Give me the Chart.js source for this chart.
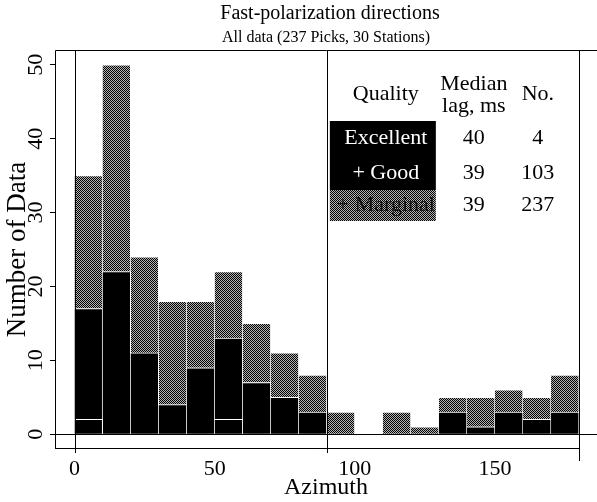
<!DOCTYPE html>
<html>
<head>
<meta charset="utf-8">
<script src="https://cdn.jsdelivr.net/npm/chart.js@4.4.0/dist/chart.umd.min.js"></script>
<style>
  html, body { margin: 0; padding: 0; background: #fff; overflow: hidden; }
</style>
</head>
<body>
<canvas id="myChart" width="597" height="502"></canvas>
<script>
// histogram of fast-polarization azimuths, 10 degree bins
const binCenters = [5, 15, 25, 35, 45, 55, 65, 75, 85, 95, 105, 115, 125, 135, 145, 155, 165, 175];
const excellent = [2, 0, 0, 0, 0, 2, 0, 0, 0, 0, 0, 0, 0, 0, 0, 0, 0, 0];
const good      = [15, 22, 11, 4, 9, 11, 7, 5, 3, 0, 0, 0, 0, 3, 1, 3, 2, 3];
const marginal  = [18, 28, 13, 14, 9, 9, 8, 6, 5, 3, 0, 3, 1, 2, 4, 3, 3, 5];

const xTicks = [0, 50, 100, 150];
const yTicks = [0, 10, 20, 30, 40, 50];
const dividers = [0, 90, 180];

// table in the upper right
const qualityNames = ['Excellent', '+ Good', '+ Marginal'];
const medianLag = [40, 39, 39];
const pickCount = [4, 103, 237];

const serif = '"Liberation Serif", "DejaVu Serif", serif';

// dithered grey like the printed figure
function stipple() {
  const c = document.createElement('canvas');
  c.width = 2; c.height = 2;
  const g = c.getContext('2d');
  g.fillStyle = '#b4b4b4';
  g.fillRect(0, 0, 2, 2);
  g.fillStyle = '#000';
  g.fillRect(0, 0, 1, 1);
  g.fillRect(1, 1, 1, 1);
  return g.createPattern(c, 'repeat');
}
const grey = stipple();

function points(values) {
  return values.map((v, i) => ({ x: binCenters[i], y: v }));
}

const framePlugin = {
  id: 'frame',
  afterDatasetsDraw(chart) {
    const { ctx, chartArea: a, scales: { x, y } } = chart;
    ctx.save();
    ctx.strokeStyle = '#000';
    ctx.lineWidth = 1;
    ctx.beginPath();
    ctx.moveTo(a.left + 0.5, a.bottom);
    ctx.lineTo(a.left + 0.5, a.top + 0.5);
    ctx.lineTo(a.right, a.top + 0.5);
    const x180 = x.getPixelForValue(180);
    ctx.moveTo(a.left, a.bottom - 0.5);
    ctx.lineTo(x180, a.bottom - 0.5);
    const y0 = Math.round(y.getPixelForValue(0)) + 0.5;
    ctx.moveTo(a.left, y0);
    ctx.lineTo(a.right, y0);
    dividers.forEach(v => {
      const px = Math.round(x.getPixelForValue(v)) + 0.5;
      ctx.moveTo(px, a.top);
      ctx.lineTo(px, a.bottom + (v === 180 ? 12 : 4));
    });
    ctx.stroke();

    // titles
    const cx = (a.left + a.right) / 2;
    ctx.fillStyle = '#000';
    ctx.textAlign = 'center';
    ctx.textBaseline = 'middle';
    ctx.font = '20px ' + serif;
    ctx.fillText('Fast-polarization directions', cx + 4, a.top - 36);
    ctx.font = '16px ' + serif;
    ctx.fillText('All data (237 Picks, 30 Stations)', cx, a.top - 12);

    // quality table
    const left = x.getPixelForValue(90) + 3;
    const colQ = left + 56, colLag = left + 144, colNo = left + 208;
    ctx.font = '22px ' + serif;
    ctx.fillText('Quality', colQ, a.top + 44);
    ctx.fillText('Median', colLag, a.top + 34);
    ctx.fillText('lag, ms', colLag, a.top + 56);
    ctx.fillText('No.', colNo, a.top + 44);
    const rowTop = [a.top + 71, a.top + 106, a.top + 140];
    const rowH = [35, 34, 31];
    const fills = ['#000', '#000', grey];
    const inks = ['#fff', '#fff', '#111'];
    qualityNames.forEach((name, i) => {
      ctx.fillStyle = fills[i];
      ctx.fillRect(left, rowTop[i], 106, rowH[i]);
      const cy = rowTop[i] + rowH[i] / 2;
      ctx.fillStyle = inks[i];
      ctx.fillText(name, colQ, cy);
      ctx.fillStyle = '#000';
      ctx.fillText(String(medianLag[i]), colLag, cy);
      ctx.fillText(String(pickCount[i]), colNo, cy);
    });
    ctx.restore();
  }
};

const ctx = document.getElementById('myChart').getContext('2d');
const myChart = new Chart(ctx, {
  type: 'bar',
  data: {
    datasets: [
      { label: 'Excellent', data: points(excellent), backgroundColor: '#000' },
      { label: 'Good', data: points(good), backgroundColor: '#000' },
      { label: 'Marginal', data: points(marginal), backgroundColor: grey }
    ]
  },
  options: {
    responsive: false,
    animation: false,
    layout: { padding: { top: 50, left: 0, right: 0, bottom: 0 } },
    datasets: {
      bar: {
        grouped: false,
        barPercentage: 1,
        categoryPercentage: 1,
        borderColor: '#fff',
        borderWidth: { top: 1, right: 1, left: 0, bottom: 0 },
        borderSkipped: false
      }
    },
    plugins: {
      legend: { display: false },
      tooltip: { enabled: false },
      title: { display: false }
    },
    scales: {
      x: {
        type: 'linear',
        offset: false,
        min: -7,
        max: 186.4,
        afterBuildTicks: s => { s.ticks = xTicks.map(v => ({ value: v })); },
        afterFit: s => { s.height = 53; },
        grid: { display: false, drawTicks: false, offset: false },
        border: { display: false },
        ticks: { color: '#000', font: { family: serif, size: 22 }, padding: 7 },
        title: { display: true, text: 'Azimuth', color: '#000', font: { family: serif, size: 24 }, padding: { top: 0, bottom: 0 } }
      },
      y: {
        stacked: true,
        min: -2,
        max: 52,
        afterBuildTicks: s => { s.ticks = yTicks.map(v => ({ value: v })); },
        afterFit: s => { s.width = 55; },
        grid: { drawOnChartArea: false, tickLength: 5, color: '#000' },
        border: { display: false },
        ticks: { color: '#000', font: { family: serif, size: 22 }, minRotation: 90, maxRotation: 90, crossAlign: 'center', padding: 3 },
        title: { display: true, text: 'Number of Data', color: '#000', font: { family: serif, size: 27 }, padding: { top: 2, bottom: 0 } }
      }
    }
  },
  plugins: [framePlugin]
});
</script>
</body>
</html>
